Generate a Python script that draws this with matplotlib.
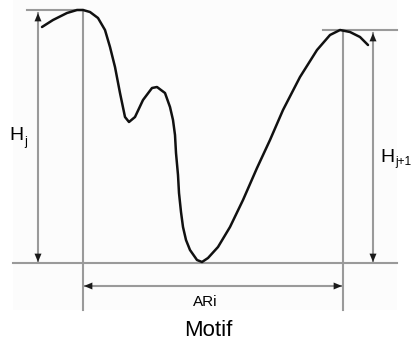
import matplotlib.pyplot as plt
from matplotlib.patches import Rectangle

plt.rcParams['font.family'] = ['Liberation Sans', 'DejaVu Sans']

# motif profile (pixel units, y downwards)
curve_x = [42, 53, 67, 77, 83, 90, 98, 105, 110, 115, 120, 125, 129, 135, 143, 152, 157,
           165, 170, 173, 175, 176, 178, 179, 181, 183, 186, 190, 197, 202, 208, 218, 230,
           243, 257, 270, 283, 300, 317, 330, 340, 350, 360, 368]
curve_y = [27, 20, 13, 10, 10, 12, 18, 30, 47, 67, 93, 117, 122, 117, 100, 88, 87,
           93, 107, 120, 135, 153, 175, 193, 212, 227, 240, 250, 260, 262, 258, 247, 227,
           200, 168, 140, 110, 77, 50, 35, 30, 32, 37, 45]

# guide lines
peak_left_x, peak_left_y = 83, 10
peak_right_x, peak_right_y = 343, 30
base_y = 263
guide_bottom = 310
hj_x, hj1_x = 38, 373
ar_y = 286

h_label = 'H'
subs = ['j', 'j+1']
ar_label = 'ARi'
title = 'Motif'

grey = '#9a9a9a'
head = '#1a1a1a'

fig = plt.figure(figsize=(4.13, 3.44), dpi=100)
ax = fig.add_axes([0, 0, 1, 1])
ax.set_xlim(0, 413)
ax.set_ylim(344, 0)
ax.axis('off')

ax.add_patch(Rectangle((13, 0), 384, guide_bottom, color='#fcfcfc', lw=0, zorder=0))

# reference lines
ax.plot([27, peak_left_x], [peak_left_y, peak_left_y], color=grey, lw=1.5)
ax.plot([323, 397], [peak_right_y, peak_right_y], color=grey, lw=1.5)
ax.plot([13, 397], [base_y, base_y], color=grey, lw=1.5)
ax.plot([peak_left_x, peak_left_x], [peak_left_y, guide_bottom], color=grey, lw=1.5)
ax.plot([peak_right_x, peak_right_x], [peak_right_y, guide_bottom], color=grey, lw=1.5)


def dim_arrow(p0, p1):
    ax.plot([p0[0], p1[0]], [p0[1], p1[1]], color=grey, lw=1.5, zorder=2)
    for a, b in [(p0, p1), (p1, p0)]:
        dx, dy = b[0] - a[0], b[1] - a[1]
        n = (dx ** 2 + dy ** 2) ** 0.5
        start = (b[0] - dx / n * 12, b[1] - dy / n * 12)
        ax.annotate('', xy=b, xytext=start,
                    arrowprops=dict(arrowstyle='-|>,head_length=0.6,head_width=0.25',
                                    color=head, lw=0.01, shrinkA=0, shrinkB=0), zorder=3)


dim_arrow((hj_x, 13), (hj_x, base_y - 1))
dim_arrow((hj1_x, peak_right_y + 3), (hj1_x, base_y - 1))
dim_arrow((peak_left_x + 1, ar_y), (peak_right_x - 1, ar_y))

ax.plot(curve_x, curve_y, color='#111111', lw=1.8, solid_capstyle='round',
        solid_joinstyle='round', zorder=4)

# H_j and H_j+1 labels
ax.text(9, 136, h_label, fontsize=14, ha='left', va='center')
ax.text(24, 142, subs[0], fontsize=9, ha='left', va='center')
ax.text(380, 157, h_label, fontsize=14, ha='left', va='center')
ax.text(395, 162, subs[1], fontsize=8.5, ha='left', va='center')

ax.text(205, 302, ar_label, fontsize=11, ha='center', va='center')
ax.text(208, 331, title, fontsize=16, ha='center', va='center')

fig.savefig('out.png', dpi=100)
